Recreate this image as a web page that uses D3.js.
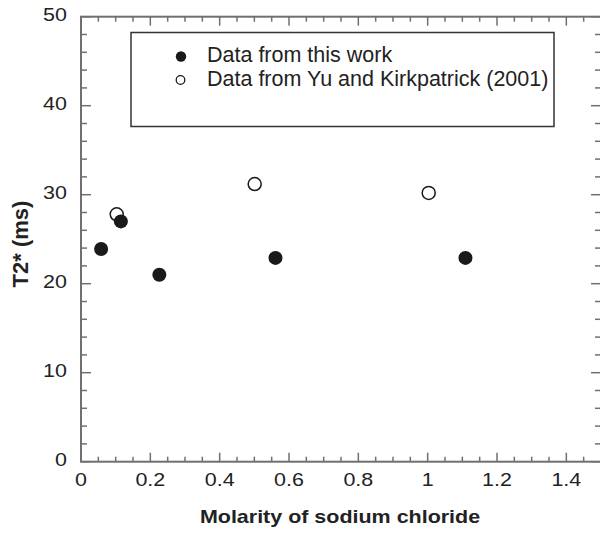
<!DOCTYPE html>
<html><head><meta charset="utf-8">
<script src="https://cdn.jsdelivr.net/npm/d3@7"></script>
<style>body{margin:0;background:#fff}svg{display:block}text{font-family:"Liberation Sans",Arial,Helvetica,sans-serif}</style>
</head><body><svg id="c" width="600" height="533"></svg>
<script>
const thisWorkX = [0.058, 0.115, 0.226, 0.561, 1.109];
const thisWorkY = [23.9, 27.0, 21.0, 22.9, 22.9];
const yuX = [0.103, 0.501, 1.003];
const yuY = [27.8, 31.2, 30.2];
const xTicks = [0, 0.2, 0.4, 0.6, 0.8, 1, 1.2, 1.4];
const yTicks = [0, 10, 20, 30, 40, 50];
const legendLabels = ["Data from this work", "Data from Yu and Kirkpatrick (2001)"];
const xTitle = "Molarity of sodium chloride";
const yTitle = "T2* (ms)";

const svg = d3.select("#c");
const L = 81, R = 601, T = 16.7, B = 461.7;
const x = d3.scaleLinear().domain([0, 1.5]).range([L, R]);
const y = d3.scaleLinear().domain([0, 50]).range([B, T]);
const axisCol = "#707070";
const SX = 1.13;

// frame
svg.append("rect").attr("x", L).attr("y", T).attr("width", R - L).attr("height", B - T)
  .attr("fill", "none").attr("stroke", axisCol).attr("stroke-width", 2);

const g = svg.append("g").attr("stroke", axisCol).attr("stroke-width", 1.5);
const xMinor = d3.range(0, 1.5001, 0.05);
xMinor.forEach(v => {
  const major = Math.abs(v / 0.2 - Math.round(v / 0.2)) < 1e-6;
  const len = major ? 9 : 5;
  g.append("line").attr("x1", x(v)).attr("x2", x(v)).attr("y1", B).attr("y2", B - len);
  g.append("line").attr("x1", x(v)).attr("x2", x(v)).attr("y1", T).attr("y2", T + len);
});
const yMinor = d3.range(0, 50.001, 2);
yMinor.forEach(v => {
  const major = v % 10 === 0;
  const len = major ? 10 : 6;
  g.append("line").attr("y1", y(v)).attr("y2", y(v)).attr("x1", L).attr("x2", L + len);
  g.append("line").attr("y1", y(v)).attr("y2", y(v)).attr("x1", R).attr("x2", R - len);
});

// tick labels
svg.selectAll(".xl").data(xTicks).enter().append("text")
  .attr("transform", d => `translate(${x(d)},486) scale(${SX},1)`).attr("text-anchor", "middle")
  .attr("font-size", 19).attr("fill", "#222").text(d => d3.format("")(d));
svg.selectAll(".yl").data(yTicks).enter().append("text")
  .attr("transform", d => `translate(67,${y(d) + 4}) scale(${SX},1)`).attr("text-anchor", "end")
  .attr("font-size", 19).attr("fill", "#222").text(d => d);

// titles
svg.append("text").attr("transform", `translate(${(L + R) / 2 - 1},523) scale(${SX},1)`)
  .attr("text-anchor", "middle")
  .attr("font-size", 19).attr("font-weight", "bold").attr("fill", "#222").text(xTitle);
svg.append("text").attr("transform", `translate(28,244) rotate(-90)`)
  .attr("text-anchor", "middle").attr("font-size", 22).attr("font-weight", "bold")
  .attr("fill", "#222").text(yTitle);

// legend
svg.append("rect").attr("x", 131).attr("y", 32.5).attr("width", 423).attr("height", 94)
  .attr("fill", "#fff").attr("stroke", "#333").attr("stroke-width", 1.5);
svg.append("circle").attr("cx", 181).attr("cy", 56.5).attr("r", 5.2).attr("fill", "#1a1a1a");
svg.append("circle").attr("cx", 180.5).attr("cy", 80).attr("r", 4.3).attr("fill", "#fff")
  .attr("stroke", "#1a1a1a").attr("stroke-width", 1.3);
legendLabels.forEach((t, i) => {
  svg.append("text").attr("x", 207).attr("y", 62 + i * 23.5).attr("font-size", 21.5)
    .attr("fill", "#222").text(t);
});

// data
svg.selectAll(".yu").data(yuX).enter().append("circle")
  .attr("cx", d => x(d)).attr("cy", (d, i) => y(yuY[i])).attr("r", 6.5)
  .attr("fill", "#fff").attr("stroke", "#1a1a1a").attr("stroke-width", 1.5);
svg.selectAll(".tw").data(thisWorkX).enter().append("circle")
  .attr("cx", d => x(d)).attr("cy", (d, i) => y(thisWorkY[i])).attr("r", 7)
  .attr("fill", "#1a1a1a");
</script></body></html>
